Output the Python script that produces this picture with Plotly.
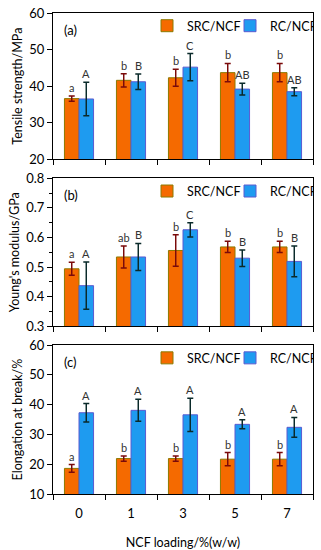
import plotly.graph_objects as go
from plotly.subplots import make_subplots

categories = ["0", "1", "3", "5", "7"]

# (a) Tensile strength / MPa
ts_src = [36.6, 41.6, 42.3, 43.7, 43.7]
ts_src_err = [0.7, 1.8, 2.3, 2.5, 2.5]
ts_rc = [36.5, 41.2, 45.2, 39.2, 38.5]
ts_rc_err = [4.6, 2.1, 3.7, 1.6, 1.1]
ts_src_lbl = ["a", "b", "b", "b", "b"]
ts_rc_lbl = ["A", "B", "C", "AB", "AB"]

# (b) Young's modulus / GPa
ym_src = [0.494, 0.534, 0.556, 0.568, 0.568]
ym_src_err = [0.022, 0.037, 0.053, 0.019, 0.019]
ym_rc = [0.437, 0.534, 0.626, 0.530, 0.519]
ym_rc_err = [0.080, 0.046, 0.024, 0.028, 0.052]
ym_src_lbl = ["a", "ab", "b", "b", "b"]
ym_rc_lbl = ["A", "B", "C", "B", "B"]

# (c) Elongation at break / %
eb_src = [18.6, 21.9, 21.9, 21.7, 21.7]
eb_src_err = [1.3, 0.9, 0.9, 2.2, 2.2]
eb_rc = [37.3, 38.1, 36.6, 33.4, 32.4]
eb_rc_err = [3.1, 3.7, 5.6, 1.5, 3.3]
eb_src_lbl = ["a", "b", "b", "b", "b"]
eb_rc_lbl = ["A", "A", "A", "A", "A"]

panels = [
    ("(a)", ts_src, ts_src_err, ts_rc, ts_rc_err, ts_src_lbl, ts_rc_lbl,
     "Tensile strength/MPa", [20, 60], 10, None),
    ("(b)", ym_src, ym_src_err, ym_rc, ym_rc_err, ym_src_lbl, ym_rc_lbl,
     "Young's modulus/GPa", [0.3, 0.8], 0.1, 0.05),
    ("(c)", eb_src, eb_src_err, eb_rc, eb_rc_err, eb_src_lbl, eb_rc_lbl,
     "Elongation at break/%", [10, 60], 10, None),
]

FONT = "Lato, 'Liberation Sans', sans-serif"
SRC_FILL = "#F56A00"
SRC_LINE = "#8C7A00"
RC_FILL = "#1E9BF0"
RC_LINE = "#5B5BD0"
SRC_ERR = "#7A0A0A"
RC_ERR = "#0A2A2A"

fig = make_subplots(rows=3, cols=1, vertical_spacing=0.04)

H_PLOT = 481.5
def dom(top_px, bot_px):
    return [(494 - bot_px) / H_PLOT, (494 - top_px) / H_PLOT]

domains = [dom(12.5, 159), dom(178, 326), dom(345, 494)]
legend_names = ["legend", "legend2", "legend3"]

annotations = []
BAR_HALF = 7.3
for i, (tag, s, se, r, re_, sl, rl, ytitle, yr, dt, minor) in enumerate(panels):
    row = i + 1
    lg = legend_names[i]
    fig.add_trace(go.Bar(
        x=categories, y=s, name="SRC/NCF", legend=lg,
        marker=dict(color=SRC_FILL, line=dict(color=SRC_LINE, width=1)),
        error_y=dict(type="data", array=se, color=SRC_ERR, thickness=1.5, width=3),
        showlegend=True), row=row, col=1)
    fig.add_trace(go.Bar(
        x=categories, y=r, name="RC/NCF", legend=lg,
        marker=dict(color=RC_FILL, line=dict(color=RC_LINE, width=1)),
        error_y=dict(type="data", array=re_, color=RC_ERR, thickness=1.5, width=3),
        showlegend=True), row=row, col=1)

    xref = "x" if row == 1 else f"x{row}"
    yref = "y" if row == 1 else f"y{row}"
    for k, (v, e, t) in enumerate(zip(s, se, sl)):
        annotations.append(dict(x=k, y=v + e, xref=xref, yref=yref, text=t,
                                showarrow=False, xshift=-BAR_HALF, yanchor="bottom",
                                yshift=0, font=dict(size=11, color="#333", family=FONT)))
    for k, (v, e, t) in enumerate(zip(r, re_, rl)):
        annotations.append(dict(x=k, y=v + e, xref=xref, yref=yref, text=t,
                                showarrow=False, xshift=BAR_HALF, yanchor="bottom",
                                yshift=0, font=dict(size=11, color="#333", family=FONT)))
    annotations.append(dict(x=0.035, y=domains[i][1] - 0.014, xref="paper", yref="paper",
                            text=tag, showarrow=False, xanchor="left", yanchor="top",
                            font=dict(size=13, color="#000", family=FONT)))

    yaxis_kw = dict(range=yr, dtick=dt, ticks="outside", ticklen=5, tickwidth=1,
                    tickcolor="#000", showline=True, linecolor="#000", linewidth=1,
                    mirror=True, showgrid=False, zeroline=False, domain=domains[i],
                    automargin=False,
                    title=dict(text=ytitle, font=dict(size=12.5, color="#000", family=FONT),
                               standoff=3),
                    tickfont=dict(size=13, color="#000", family=FONT))
    if minor:
        yaxis_kw["minor"] = dict(dtick=minor, ticks="outside", ticklen=3,
                                 tickcolor="#000", showgrid=False)
    fig.update_yaxes(row=row, col=1, **yaxis_kw)
    fig.update_xaxes(row=row, col=1, type="category", tickson="boundaries",
                     range=[-0.5, len(categories) - 0.5], autorange=False,
                     automargin=False,
                     ticks="outside", ticklen=5, tickcolor="#000", showline=True,
                     linecolor="#000", linewidth=1, mirror=True, showgrid=False,
                     showticklabels=(row == 3), ticklabelstandoff=7,
                     tickfont=dict(size=13, color="#000", family=FONT))

fig.update_xaxes(row=3, col=1, title=dict(text="NCF loading/%(w/w)",
                 font=dict(size=12.5, color="#000", family=FONT), standoff=18))

legend_common = dict(orientation="h", xanchor="right", yanchor="top", x=1.0,
                     bgcolor="rgba(0,0,0,0)", font=dict(size=12.5, color="#000", family=FONT),
                     itemwidth=30, entrywidth=38, tracegroupgap=0, itemclick=False)
fig.update_layout(
    legend=dict(y=domains[0][1] + 0.004, **legend_common),
    legend2=dict(y=domains[1][1] + 0.004, **legend_common),
    legend3=dict(y=domains[2][1] + 0.004, **legend_common),
)

fig.update_layout(
    width=321, height=550, barmode="group", bargap=0.44, bargroupgap=0,
    margin=dict(l=53, r=8, t=12.5, b=56, autoexpand=False),
    plot_bgcolor="white", paper_bgcolor="white",
    font=dict(family=FONT, color="#000"),
    annotations=annotations,
)

fig.write_html("out.html", config={"displayModeBar": False},
               post_script="document.body.style.margin='0';")
